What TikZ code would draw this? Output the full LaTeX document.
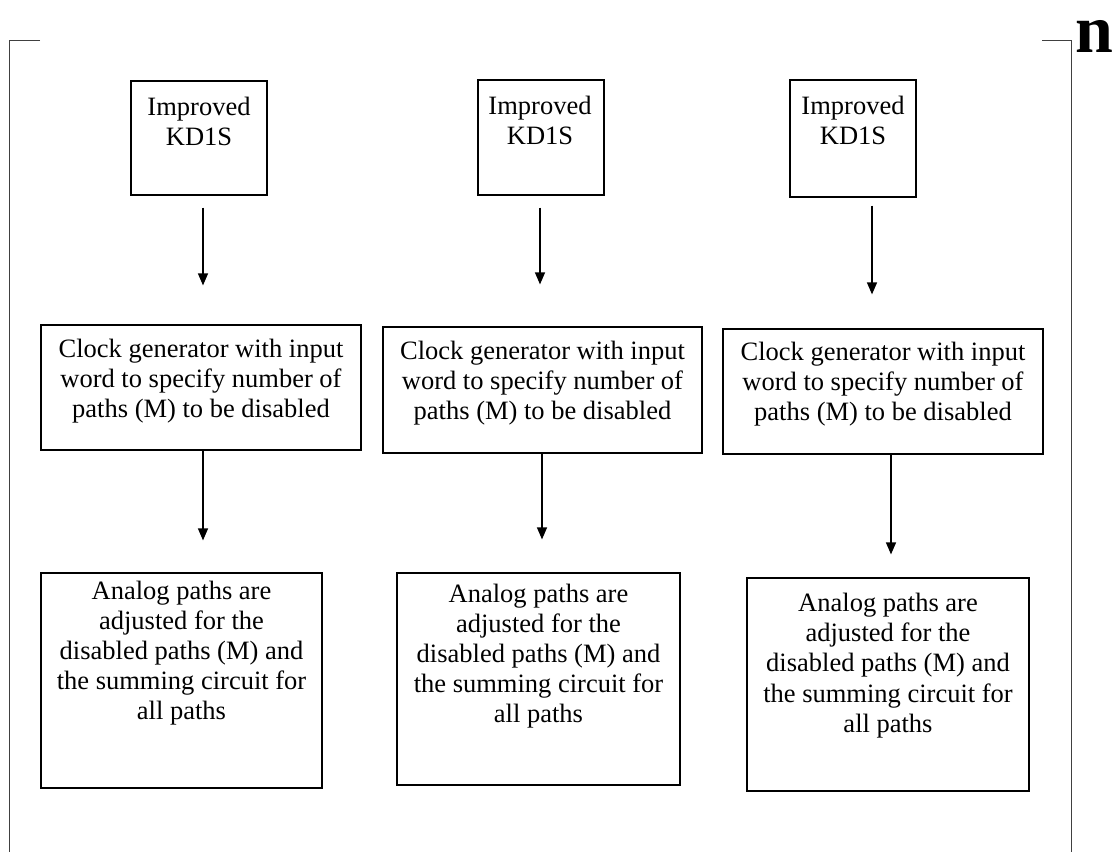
\documentclass[tikz,border=0pt]{standalone}
\usepackage{fontspec}
\setmainfont{Liberation Serif}
\usetikzlibrary{arrows.meta}
\begin{document}
\begin{tikzpicture}[x=1pt,y=-1pt,
  box/.style={draw, line width=1.2pt, inner sep=0pt},
  txt/.style={font=\fontsize{26.5}{30}\selectfont, align=center, inner sep=0pt, anchor=north},
  arr/.style={-{Triangle[length=12pt,width=10pt]}, line width=1.3pt},
  frame/.style={draw=black!75, line width=1pt}]
\useasboundingbox (0,0) rectangle (1116,852);

% outer frame
\draw[frame] (40,40) -- (9,40) -- (9,852);
\draw[frame] (1042,40) -- (1071,40) -- (1071,852);
\node[anchor=base, inner sep=0pt] (nlab) at (1094,52) {\fontsize{68}{68}\selectfont\bfseries n};

% top boxes
\node[box, minimum width=136pt, minimum height=114pt] (t1) at (199,138) {};
\node[box, minimum width=126pt, minimum height=115pt] (t2) at (541,137.5) {};
\node[box, minimum width=126pt, minimum height=117pt] (t3) at (853,138.5) {};
\node[txt] (t1l) at ([yshift=-17pt]t1.north) {Improved\\KD1S};
\node[txt] (t2l) at ([yshift=-17pt,xshift=-1pt]t2.north) {Improved\\KD1S};
\node[txt] (t3l) at ([yshift=-17pt]t3.north) {Improved\\KD1S};

% middle boxes
\node[box, minimum width=320pt, minimum height=125pt] (m1) at (201,387.5) {};
\node[box, minimum width=319pt, minimum height=126pt] (m2) at (542.5,390) {};
\node[box, minimum width=320pt, minimum height=125pt] (m3) at (883,391.5) {};
\node[txt] (m1l) at ([yshift=-15pt]m1.north) {Clock generator with input\\word to specify number of\\paths (M) to be disabled};
\node[txt] (m2l) at ([yshift=-15pt]m2.north) {Clock generator with input\\word to specify number of\\paths (M) to be disabled};
\node[txt] (m3l) at ([yshift=-14pt]m3.north) {Clock generator with input\\word to specify number of\\paths (M) to be disabled};

% bottom boxes
\node[box, minimum width=281pt, minimum height=215pt] (b1) at (181.5,680.5) {};
\node[box, minimum width=283pt, minimum height=212pt] (b2) at (538.5,679) {};
\node[box, minimum width=282pt, minimum height=213pt] (b3) at (888,684.5) {};
\node[txt] (b1l) at ([yshift=-9pt]b1.north) {Analog paths are\\adjusted for the\\disabled paths (M) and\\the summing circuit for\\all paths};
\node[txt] (b2l) at ([yshift=-12pt]b2.north) {Analog paths are\\adjusted for the\\disabled paths (M) and\\the summing circuit for\\all paths};
\node[txt] (b3l) at ([yshift=-16pt]b3.north) {Analog paths are\\adjusted for the\\disabled paths (M) and\\the summing circuit for\\all paths};

% arrows top -> middle
\draw[arr] ([xshift=4pt,yshift=-12pt]t1.south) -- ([xshift=2pt,yshift=39pt]m1.north);
\draw[arr] ([xshift=-1pt,yshift=-12pt]t2.south) -- ([xshift=-2.5pt,yshift=42pt]m2.north);
\draw[arr] ([xshift=19pt,yshift=-8pt]t3.south) -- ([xshift=-11pt,yshift=34pt]m3.north);

% arrows middle -> bottom
\draw[arr] ([xshift=2pt]m1.south) -- ([xshift=21.5pt,yshift=32pt]b1.north);
\draw[arr] ([xshift=-0.5pt]m2.south) -- ([xshift=3.5pt,yshift=33pt]b2.north);
\draw[arr] ([xshift=8pt]m3.south) -- ([xshift=3pt,yshift=23pt]b3.north);
\end{tikzpicture}
\end{document}
